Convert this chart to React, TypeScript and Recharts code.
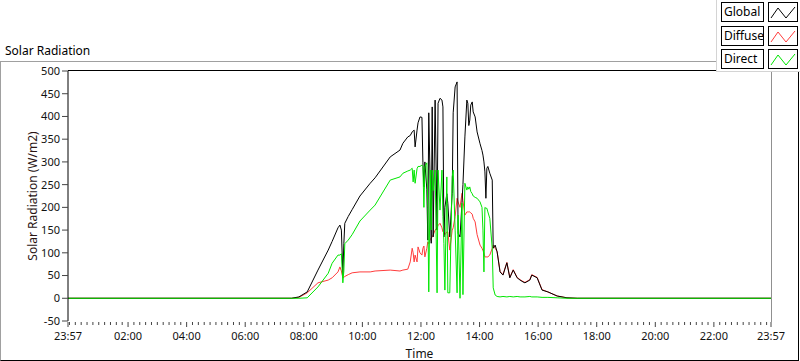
import React from "react";
import { LineChart, Line, XAxis, YAxis } from "recharts";

// minutes after midnight (-3 = 23:57 of the previous day)
const minutes = [
  -3, 455, 470, 487, 509, 530, 538, 550, 554, 557, 560, 562, 564, 571, 579, 595, 616, 626, 657, 677,
  683, 693, 698, 702, 704, 706, 708, 712, 714, 718, 722, 724, 726, 728, 732, 734, 736, 739, 741, 743,
  745, 749, 753, 755, 759, 763, 765, 767, 769, 773, 775, 779, 784, 786, 790, 794, 796, 800, 804, 806,
  810, 814, 816, 818, 820, 822, 825, 827, 831, 835, 841, 845, 847, 849, 851, 853, 855, 857, 861, 866,
  868, 872, 876, 882, 888, 896, 902, 909, 917, 923, 929, 933, 943, 947, 958, 968, 980, 999, 1019, 1040,
  1437,
];

const globalRad = [
  0, 0, 3, 14, 62, 106, 125, 155, 161, 150, 50, 120, 165, 180, 195, 225, 253, 265, 311, 326,
  341, 355, 358, 366, 368, 370, 333, 370, 386, 399, 398, 298, 245, 300, 240, 128, 408, 250, 121, 421,
  135, 436, 150, 429, 440, 436, 421, 135, 200, 230, 209, 135, 231, 408, 465, 476, 143, 135, 210, 250,
  355, 436, 429, 380, 392, 425, 432, 410, 399, 366, 340, 325, 315, 300, 278, 220, 286, 290, 275, 260,
  110, 117, 102, 58, 51, 78, 45, 62, 45, 40, 36, 34, 40, 51, 45, 18, 14, 5, 1, 0,
  0,
];

const diffuseRad = [
  0, 0, 2, 12, 34, 40, 45, 58, 69, 60, 45, 46, 48, 52, 56, 58, 58, 60, 62, 60,
  62, 64, 80, 110, 100, 80, 95, 80, 113, 100, 95, 110, 115, 91, 110, 124, 120, 130, 132, 135,
  139, 150, 155, 160, 165, 155, 146, 146, 140, 146, 146, 106, 150, 155, 180, 220, 212, 200, 231, 215,
  183, 190, 190, 190, 190, 188, 185, 176, 168, 140, 117, 110, 105, 100, 91, 91, 91, 91, 95, 110,
  117, 110, 103, 59, 52, 79, 46, 63, 46, 41, 37, 35, 41, 52, 46, 19, 14, 5, 1, 0,
  0,
];

const directRad = [
  0, 0, 0, 1, 25, 55, 77, 95, 95, 98, 34, 60, 120, 128, 140, 170, 194, 205, 260, 267,
  275, 280, 282, 286, 256, 282, 253, 285, 290, 290, 293, 290, 200, 290, 298, 200, 14, 282, 150, 282,
  237, 282, 12, 282, 194, 282, 180, 120, 18, 267, 12, 12, 267, 282, 150, 12, 183, 0, 209, 8,
  253, 238, 245, 240, 245, 235, 230, 225, 222, 220, 212, 200, 150, 58, 200, 198, 198, 190, 176, 110,
  23, 7, 4, 3, 4, 3, 4, 3, 4, 3, 3, 3, 4, 3, 3, 2, 2, 1, 0, 0,
  0,
];

const xTickValues = [-3, 120, 240, 360, 480, 600, 720, 840, 960, 1080, 1200, 1320, 1437];
const xTickLabels = [
  "23:57", "02:00", "04:00", "06:00", "08:00", "10:00", "12:00",
  "14:00", "16:00", "18:00", "20:00", "22:00", "23:57",
];
const yTicks = [-50, 0, 50, 100, 150, 200, 250, 300, 350, 400, 450, 500];

const seriesKeys = ["global", "diffuse", "direct"];
const seriesNames = ["Global", "Diffuse", "Direct"];
const seriesColors = ["#000000", "#ff3c3c", "#00e600"];
// diffuse sits under global where they overlap
const drawOrder = [1, 0, 2];

const data = minutes.map((t, i) => ({
  t,
  global: globalRad[i],
  diffuse: diffuseRad[i],
  direct: directRad[i],
}));

// minor ticks every 12 minutes between the labelled ones
const minorTicks = Array.from({ length: 120 }, (_, i) => i * 12).filter(
  (v) => v % 120 !== 0 || v === 0
);
const allTicks = [...xTickValues, ...minorTicks].sort((a, b) => a - b);

const FONT = "'Noto Sans', 'DejaVu Sans', sans-serif";

function TimeTick(props: any) {
  const { x, y, payload } = props;
  const idx = xTickValues.indexOf(payload.value);
  if (idx < 0) {
    return <line x1={x} x2={x} y1={y + 1} y2={y + 4} stroke="#444" />;
  }
  return (
    <g>
      <line x1={x} x2={x} y1={y + 1} y2={y + 6} stroke="#444" />
      <text x={x} y={y + 19} textAnchor="middle" fontSize={11} fill="#111" fontFamily={FONT}>
        {xTickLabels[idx]}
      </text>
    </g>
  );
}

function LegendPanel() {
  return (
    <div
      style={{
        position: "absolute",
        left: 716,
        top: 0,
        width: 84,
        height: 72,
        background: "#fff",
        borderLeft: "1px solid #d4d4d4",
        borderBottom: "1px solid #d4d4d4",
        boxSizing: "border-box",
      }}
    >
      {seriesNames.map((name, i) => (
        <React.Fragment key={name}>
          <div
            style={{
              position: "absolute",
              left: 4,
              top: 2 + i * 23.5,
              width: 43,
              height: 20,
              border: "1px solid #000",
              boxSizing: "border-box",
              fontSize: 12,
              lineHeight: "18px",
              paddingLeft: 2,
              fontFamily: FONT,
              color: "#000",
            }}
          >
            {name}
          </div>
          <svg
            width={30}
            height={20}
            style={{ position: "absolute", left: 51, top: 2 + i * 23.5 }}
          >
            <rect x={0.5} y={0.5} width={29} height={19} fill="#fff" stroke="#000" />
            <polyline
              points="3,16 10,6 18,16 27,5"
              fill="none"
              stroke={seriesColors[i]}
              strokeWidth={1}
            />
          </svg>
        </React.Fragment>
      ))}
    </div>
  );
}

export default function App() {
  return (
    <div
      style={{
        position: "absolute",
        left: 0,
        top: 0,
        width: 800,
        height: 361,
        background: "#fff",
        fontFamily: FONT,
        overflow: "hidden",
      }}
    >
      {/* outer frame */}
      <div
        style={{
          position: "absolute",
          left: 0,
          top: 61,
          width: 799,
          height: 300,
          borderTop: "1px solid #a0a0a0",
          borderLeft: "1px solid #a0a0a0",
          borderBottom: "1px solid #000",
          borderRight: "1px solid #000",
          boxSizing: "border-box",
        }}
      />
      <div
        style={{ position: "absolute", left: 5, top: 42, fontSize: 12, color: "#000" }}
      >
        Solar Radiation
      </div>

      <div style={{ position: "absolute", left: 0, top: 0 }}>
        <LineChart
          width={800}
          height={361}
          data={data}
          margin={{ top: 71, right: 29, bottom: 0, left: 0 }}
        >
          <XAxis
            dataKey="t"
            type="number"
            domain={[-3, 1437]}
            ticks={allTicks}
            interval={0}
            tickSize={0}
            tickMargin={0}
            axisLine={false}
            tickLine={false}
            tick={<TimeTick />}
            height={40}
            allowDataOverflow
            label={{
              value: "Time",
              position: "insideBottom",
              offset: 3,
              fontSize: 12,
              fill: "#111",
            }}
          />
          <YAxis
            type="number"
            domain={[-50, 500]}
            ticks={yTicks}
            interval={0}
            width={68}
            tickSize={6}
            tickMargin={2}
            axisLine={{ stroke: "#000" }}
            tickLine={{ stroke: "#444" }}
            tick={{ fontSize: 11, fill: "#111", fontFamily: FONT }}
            allowDataOverflow
            label={{
              content: () => (
                <text
                  x={32}
                  y={196}
                  transform="rotate(-90 32 196)"
                  textAnchor="middle"
                  dominantBaseline="central"
                  fontSize={12}
                  fill="#2a1414"
                  fontFamily={FONT}
                >
                  Solar Radiation (W/m2)
                </text>
              ),
            }}
          />
          {drawOrder.map((i) => (
            <Line
              key={seriesKeys[i]}
              dataKey={seriesKeys[i]}
              name={seriesNames[i]}
              type="linear"
              stroke={seriesColors[i]}
              strokeWidth={1}
              dot={false}
              activeDot={false}
              isAnimationActive={false}
            />
          ))}
        </LineChart>
      </div>

      {/* plot border: top black, right gray */}
      <div style={{ position: "absolute", left: 68, top: 70, width: 704, height: 1, background: "#000" }} />
      <div style={{ position: "absolute", left: 771, top: 70, width: 1, height: 252, background: "#909090" }} />

      <LegendPanel />
    </div>
  );
}
